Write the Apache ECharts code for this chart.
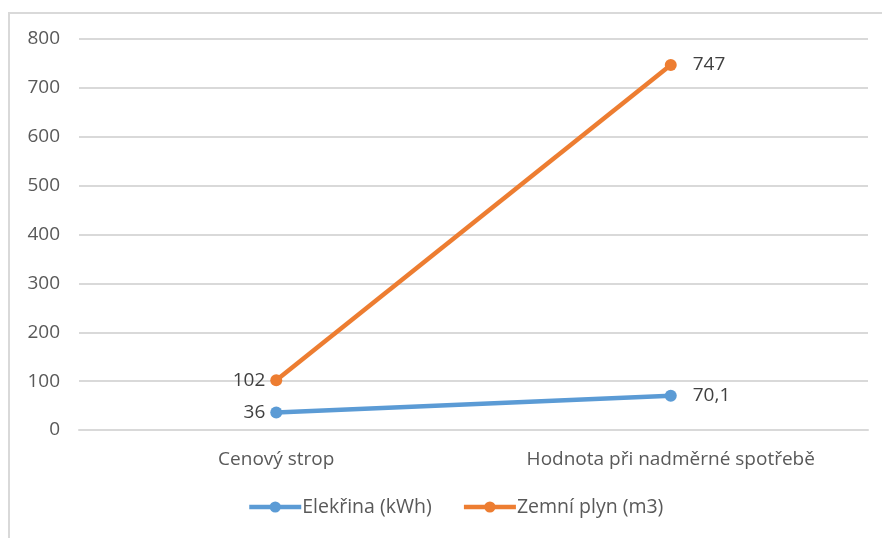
<!DOCTYPE html>
<html>
<head>
<meta charset="utf-8">
<script src="https://cdn.jsdelivr.net/npm/echarts@6/dist/echarts.min.js"></script>
<style>
html,body{margin:0;padding:0;background:#fff;overflow:hidden;}
#frame{position:absolute;left:8px;top:12px;width:900px;height:600px;border-left:2px solid #d9d9d9;border-top:2px solid #d9d9d9;box-sizing:border-box;}
#chart{position:absolute;left:0;top:0;width:882px;height:538px;}
</style>
</head>
<body>
<div id="frame"></div>
<div id="chart"></div>
<script>
var categories = ['Cenový strop', 'Hodnota při nadměrné spotřebě'];
var seriesNames = ['Elekřina (kWh)', 'Zemní plyn (m3)'];
var elektrina = [36, 70.1];
var plyn = [102, 747];
var yTicks = { min: 0, max: 800, interval: 100 };

var chart = echarts.init(document.getElementById('chart'));
var fontFam = '"Open Sans", "Noto Sans", sans-serif';
function lbl(params) {
  return String(params.value).replace('.', ',');
}
function mkLabelLayout(p) {
  return p.dataIndex === 0 ? { dx: -(p.labelRect.width + 33), dy: 0 } : {};
}
chart.setOption({
  animation: false,
  color: ['#5B9BD5', '#ED7D31'],
  textStyle: { fontFamily: fontFam },
  grid: { left: 79, right: 14, top: 39, bottom: 108 },
  xAxis: {
    type: 'category',
    data: categories,
    boundaryGap: true,
    axisLine: { show: true, lineStyle: { color: '#d9d9d9', width: 2 } },
    axisTick: { show: false },
    axisLabel: { color: '#595959', fontSize: 19, margin: 20, fontFamily: fontFam }
  },
  yAxis: {
    type: 'value',
    min: yTicks.min, max: yTicks.max, interval: yTicks.interval,
    axisLine: { show: false },
    axisTick: { show: false },
    splitLine: { lineStyle: { color: '#d9d9d9', width: 2 } },
    axisLabel: { color: '#595959', fontSize: 19, margin: 19, fontFamily: fontFam }
  },
  legend: {
    bottom: 16,
    left: 242,
    itemWidth: 52,
    itemHeight: 14,
    itemGap: 30,
    lineStyle: { width: 4.5 },
    textStyle: { color: '#595959', fontSize: 19.5, fontFamily: fontFam, padding: [0, 0, 0, -4] },
    data: seriesNames
  },
  series: [
    {
      name: seriesNames[0],
      type: 'line',
      data: elektrina,
      symbol: 'circle',
      symbolSize: 12,
      lineStyle: { width: 4.5 },
      label: {
        show: true,
        formatter: lbl,
        color: '#404040',
        fontSize: 19,
        fontFamily: fontFam,
        position: 'right',
        distance: 16
      },
      labelLayout: mkLabelLayout
    },
    {
      name: seriesNames[1],
      type: 'line',
      data: plyn,
      symbol: 'circle',
      symbolSize: 12,
      lineStyle: { width: 4.5 },
      label: {
        show: true,
        formatter: lbl,
        color: '#404040',
        fontSize: 19,
        fontFamily: fontFam,
        position: 'right',
        distance: 16
      },
      labelLayout: mkLabelLayout
    }
  ]
});
</script>
</body>
</html>
